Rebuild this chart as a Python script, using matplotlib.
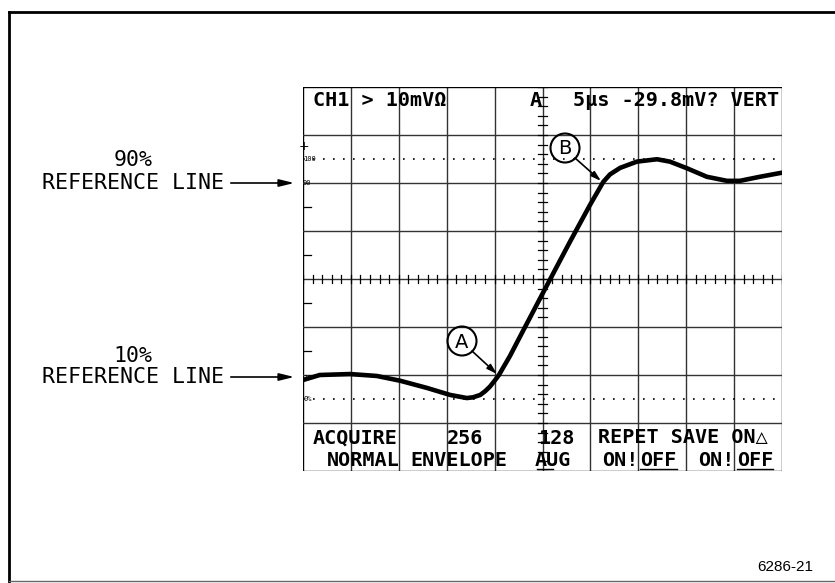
import numpy as np
import matplotlib.pyplot as plt
from matplotlib.transforms import Affine2D
from matplotlib.patches import Circle

# step response (x in divisions, y in % of step)
time_div = [0.0, 0.35, 0.98, 1.54, 2.03, 2.59, 3.07, 3.42, 3.55, 3.70, 3.80,
            3.90, 4.00, 4.09, 4.32, 4.57, 5.07, 5.57, 5.99, 6.27, 6.41, 6.62,
            6.97, 7.39, 7.66, 8.02, 8.43, 8.85, 9.12, 9.54, 10.0]
amplitude_pct = [7.9, 10.0, 10.4, 9.6, 7.6, 4.6, 1.7, 0.4, 0.7, 1.7, 3.2,
                 5.1, 7.6, 10.0, 17.9, 27.5, 46.5, 65.4, 80.8, 90.5, 93.6, 96.3,
                 98.9, 99.9, 98.9, 96.1, 92.6, 90.9, 90.9, 92.6, 94.3]

grid_x = np.arange(0, 11)
grid_y = np.arange(-30, 131, 20)
ref_levels = [0, 100]

header_txt = ["CH1 > 10mVΩ", "A", "5µs -29.8mV? VERT"]
menu_top = ["ACQUIRE", "256", "128", "REPET SAVE ON△"]
menu_bot = ["NORMAL", "ENVELOPE", "AUG", "ON!", "OFF", "ON!", "OFF"]
side_pct = ["90%", "10%"]
fig_id = "6286-21"

mono = ['DejaVu Sans Mono', 'DejaVu Sans']

fig = plt.figure(figsize=(8.35, 5.83), dpi=100)
# pixel coords, origin top-left
px = Affine2D().scale(1 / 835, -1 / 583).translate(0, 1) + fig.transFigure

ax = fig.add_axes([303 / 835, (583 - 471) / 583, 479 / 835, 384 / 583])
ax.set_xlim(0, 10)
ax.set_ylim(-30, 130)
ax.axis('off')

# graticule
for x in grid_x:
    c = 'black' if x in (0, 10) else '#333333'
    ax.plot([x, x], [-30, 130], color=c, lw=1.0, zorder=1)
for y in grid_y:
    c = 'black' if y in (-30, 130) else '#333333'
    ax.plot([0, 10], [y, y], color=c, lw=1.0, zorder=1)
for lv in ref_levels:
    ax.plot([0, 10], [lv, lv], color='black', lw=1.2, dashes=(1, 5), zorder=1)

# center axes with minor ticks
for t in np.arange(-30, 130.1, 4):
    ax.plot([4.9, 5.1], [t, t], color='black', lw=0.9, zorder=2)
for t in np.arange(0, 10.01, 0.2):
    ax.plot([t, t], [48.3, 51.7], color='black', lw=0.9, zorder=2)
for t in [80, 60, 40, 20]:
    ax.plot([0, 0.17], [t, t], color='black', lw=0.9, zorder=2)

# waveform
ax.plot(time_div, amplitude_pct, color='black', lw=3.3,
        solid_joinstyle='round', solid_capstyle='round', zorder=5)

# small scale marks at left edge
for s, yy in [("100", 159), ("90", 183), ("10", 378), ("0%", 399)]:
    fig.text(303, yy, s, transform=px, fontsize=5, family=mono,
             ha='left', va='center')
fig.text(304, 147, "+", transform=px, fontsize=9, ha='center', va='center')

# header row
for s, xx in zip(header_txt, [313, 530, 573]):
    fig.text(xx, 101, s, transform=px, fontsize=14.5, family=mono,
             weight='bold', ha='left', va='center')

# menu rows
for s, xx in zip(menu_top, [313, 447, 538, 598]):
    fig.text(xx, 438, s, transform=px, fontsize=14.5, family=mono,
             weight='bold', ha='left', va='center')
for s, xx in zip(menu_bot, [327, 410, 535, 602, 640, 698, 737]):
    fig.text(xx, 460, s, transform=px, fontsize=14.5, family=mono,
             weight='bold', ha='left', va='center')
for x0, x1 in [(537, 553), (640, 677), (737, 773)]:
    fig.lines.append(plt.Line2D([x0, x1], [469, 469], transform=px,
                                color='black', lw=1.0))

# reference line labels
for s, ty, ly in zip(side_pct, [160, 356], [183, 377]):
    fig.text(133, ty, s, transform=px, fontsize=15.5, family=mono,
             ha='center', va='center')
    fig.text(42, ly, "REFERENCE LINE", transform=px, fontsize=15.5,
             family=mono, ha='left', va='center')
    ax.annotate("", xy=(297, ly), xycoords=px, xytext=(228, ly),
                textcoords=px,
                arrowprops=dict(arrowstyle='-|>,head_length=0.9,head_width=0.22',
                                color='black', lw=1.2))

# circled callouts A and B
for lab, cx, cy, tip in [("A", 462, 341, (497, 374)),
                         ("B", 565, 148, (601, 181))]:
    fig.patches.append(Circle((cx, cy), 14.5, transform=px, fill=False,
                              ec='black', lw=1.5))
    fig.text(cx, cy + 1, lab, transform=px, fontsize=14, ha='center',
             va='center')
    ax.annotate("", xy=tip, xycoords=px, xytext=(cx + 10, cy + 10),
                textcoords=px,
                arrowprops=dict(arrowstyle='-|>,head_length=0.6,head_width=0.18',
                                color='black', lw=1.2, shrinkA=0, shrinkB=0))

# outer frame
fig.lines.append(plt.Line2D([9, 9], [12, 583], transform=px, color='black', lw=2))
fig.lines.append(plt.Line2D([9, 835], [12, 12], transform=px, color='black', lw=2))
fig.lines.append(plt.Line2D([9, 835], [581, 581], transform=px, color='#666666', lw=1))

fig.text(757, 567, fig_id, transform=px, fontsize=11, family='Liberation Sans',
         ha='left', va='center')

fig.savefig("out.png", dpi=100)
